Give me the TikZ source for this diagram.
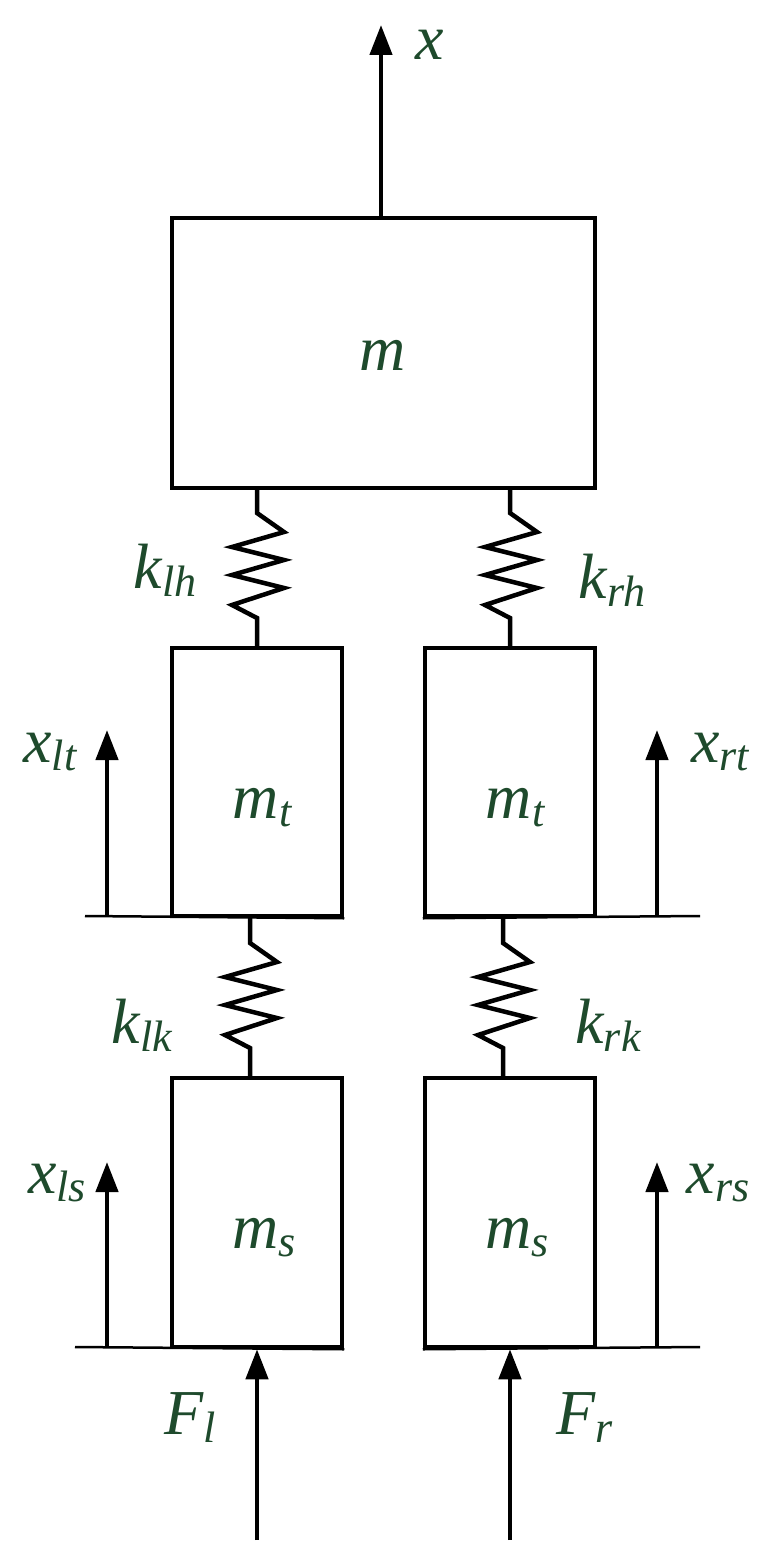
\documentclass[tikz,border=0pt]{standalone}
\usepackage{fontspec}
\setmainfont{Liberation Serif}
\usetikzlibrary{arrows.meta}
\definecolor{lab}{HTML}{1E4A2C}
\newcommand{\sbs}[1]{\raisebox{-8pt}{\fontsize{44}{44}\selectfont #1}}
\begin{document}
\begin{tikzpicture}[x=1pt,y=-1pt,line width=4.5pt,
 box/.style={draw,line width=4.5pt,inner sep=0pt},
 arr/.style={-{Triangle[length=30pt,width=22pt]},line width=4.5pt},
 lbl/.style={text=lab,font=\fontsize{64}{64}\selectfont\itshape,inner sep=0pt}]
\useasboundingbox (0,0) rectangle (772,1563);
\newcommand{\spr}[3]{% x, ytop, name
 \draw[line width=4.5pt,line join=miter] (#1,#2) -- ++(0,25) -- ++(27,19) -- ++(-52,15) -- ++(52,13) -- ++(-52,15) -- ++(52,13) -- ++(-52,17) -- ++(25,13) -- (#1,#2+160);}
\node[box,minimum width=423pt,minimum height=270pt] (m) at (383.5,353) {};
\node[lbl] at (383,355) {m};
\coordinate (xt) at (381,25);
\draw[arr] (381,218) -- (xt);
\node[lbl,anchor=west] at (413,45) {x};
\node[box,minimum width=170pt,minimum height=268pt] (mtl) at (257,782) {};
\node[box,minimum width=170pt,minimum height=268pt] (mtr) at (510,782) {};
\node[box,minimum width=170pt,minimum height=269pt] (msl) at (257,1212.5) {};
\node[box,minimum width=170pt,minimum height=269pt] (msr) at (510,1212.5) {};
\node[lbl] at (262,808) {m\sbs{t}};
\node[lbl] at (515,808) {m\sbs{t}};
\node[lbl] at (264,1238) {m\sbs{s}};
\node[lbl] at (517,1238) {m\sbs{s}};
\spr{257}{488}{a}
\spr{510}{488}{b}
\spr{250}{918}{c}
\spr{503}{918}{d}
\node[lbl] at (165,570) {k\sbs{lh}};
\node[lbl] at (612,580) {k\sbs{rh}};
\node[lbl] at (142,1025) {k\sbs{lk}};
\node[lbl] at (608,1025) {k\sbs{rk}};
% ground lines
\coordinate (g1) at (85,916); \coordinate (g2) at (700,916);
\coordinate (g3) at (75,1347); \coordinate (g4) at (700,1347);
\draw[line width=2.5pt] (g1) -- (mtl.south east);
\draw[line width=2.5pt] (mtr.south west) -- (g2);
\draw[line width=2.5pt] (g3) -- (msl.south east);
\draw[line width=2.5pt] (msr.south west) -- (g4);
\coordinate (a1) at (107,916); \coordinate (a2) at (107,730);
\coordinate (b1) at (657,916); \coordinate (b2) at (657,730);
\coordinate (c1) at (107,1347); \coordinate (c2) at (107,1162);
\coordinate (d1) at (657,1347); \coordinate (d2) at (657,1162);
\draw[arr] (a1) -- (a2); \draw[arr] (b1) -- (b2);
\draw[arr] (c1) -- (c2); \draw[arr] (d1) -- (d2);
\node[lbl] at (50,752) {x\sbs{lt}};
\node[lbl] at (720,752) {x\sbs{rt}};
\node[lbl] at (57,1183) {x\sbs{ls}};
\node[lbl] at (718,1183) {x\sbs{rs}};
\coordinate (f1) at (257,1540); \coordinate (f2) at (510,1540);
\draw[arr] (f1) -- (msl.south);
\draw[arr] (f2) -- (msr.south);
\node[lbl] at (190,1418) {F\sbs{l}};
\node[lbl] at (585,1418) {F\sbs{r}};
\end{tikzpicture}
\end{document}
